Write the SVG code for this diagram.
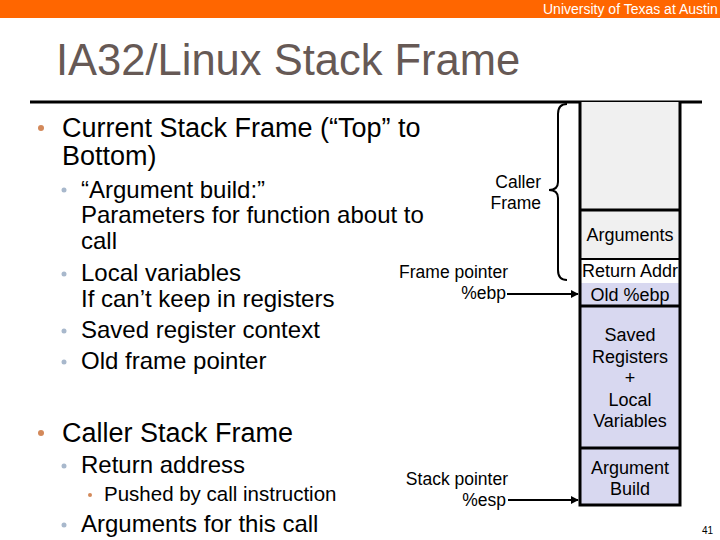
<svg xmlns="http://www.w3.org/2000/svg" width="720" height="540" viewBox="0 0 720 540">
<defs>
<style>
text{font-family:"Liberation Sans",Arial,sans-serif;fill:#000}
.b1{font-size:27px}
.b2{font-size:24px}
.b3{font-size:20.5px}
.lbl{font-size:17.5px}
.cell{font-size:18px;text-anchor:middle}
.r{text-anchor:end}
.d1{fill:#d3895a}
.d2{fill:#a8b8cc}
</style>
<marker id="ah" viewBox="0 0 10 10" refX="9" refY="5" markerWidth="4" markerHeight="4" orient="auto"><path d="M0,0L10,5L0,10z" fill="#000"/></marker>
</defs>
<rect width="720" height="540" fill="#fff"/>
<rect x="0" y="0" width="720" height="18" fill="#ff6600"/>
<text x="543" y="14" style="font-size:14px;fill:#fff">University of Texas at Austin</text>
<text x="56" y="75" style="font-size:43.5px;fill:#665955">IA32/Linux Stack Frame</text>
<line x1="30" y1="102" x2="702" y2="102" stroke="#000" stroke-width="3"/>

<g id="bullets">
<circle class="d1" cx="41" cy="128" r="3"/>
<text class="b1" x="62" y="137">Current Stack Frame (“Top” to</text>
<text class="b1" x="62" y="165">Bottom)</text>
<circle class="d2" cx="64" cy="190" r="2.5"/>
<text class="b2" x="81" y="198">“Argument build:”</text>
<text class="b2" x="81" y="223">Parameters for function about to</text>
<text class="b2" x="81" y="249">call</text>
<circle class="d2" cx="64" cy="274" r="2.5"/>
<text class="b2" x="81" y="281">Local variables</text>
<text class="b2" x="81" y="307">If can’t keep in registers</text>
<circle class="d2" cx="64" cy="331" r="2.5"/>
<text class="b2" x="81" y="338">Saved register context</text>
<circle class="d2" cx="64" cy="362" r="2.5"/>
<text class="b2" x="81" y="369">Old frame pointer</text>
<circle class="d1" cx="41" cy="433" r="3"/>
<text class="b1" x="62" y="442">Caller Stack Frame</text>
<circle class="d2" cx="64" cy="466" r="2.5"/>
<text class="b2" x="81" y="473">Return address</text>
<circle class="d1" cx="90" cy="495" r="2"/>
<text class="b3" x="104" y="501">Pushed by call instruction</text>
<circle class="d2" cx="64" cy="525" r="2.5"/>
<text class="b2" x="81" y="532">Arguments for this call</text>
</g>

<g id="stack">
<rect x="580" y="102" width="100" height="157" fill="#f0f0f0"/>
<rect x="580" y="259" width="100" height="24" fill="#fff"/>
<rect x="580" y="283" width="100" height="222" fill="#d8d8f0"/>
<line x1="580" y1="210" x2="680" y2="210" stroke="#000" stroke-width="3"/>
<line x1="580" y1="259" x2="680" y2="259" stroke="#000" stroke-width="2"/>
<line x1="580" y1="306" x2="680" y2="306" stroke="#000" stroke-width="3"/>
<line x1="580" y1="448" x2="680" y2="448" stroke="#000" stroke-width="3"/>
<path d="M580,102V505H680V102" fill="none" stroke="#000" stroke-width="3"/>
</g>
<g id="cells">
<text class="cell" x="630" y="241">Arguments</text>
<text class="cell" x="630" y="277">Return Addr</text>
<text class="cell" x="630" y="301">Old %ebp</text>
<text class="cell" x="630" y="341">Saved</text>
<text class="cell" x="630" y="363">Registers</text>
<text class="cell" x="630" y="384">+</text>
<text class="cell" x="630" y="406">Local</text>
<text class="cell" x="630" y="427">Variables</text>
<text class="cell" x="630" y="474">Argument</text>
<text class="cell" x="630" y="495">Build</text>
</g>

<g id="labels">
<text class="lbl r" x="541" y="188">Caller</text>
<text class="lbl r" x="541" y="209">Frame</text>
<text class="lbl r" x="508" y="278">Frame pointer</text>
<text class="lbl r" x="506" y="299">%ebp</text>
<text class="lbl r" x="508" y="485">Stack pointer</text>
<text class="lbl r" x="506" y="506">%esp</text>
</g>

<g id="connectors" fill="none" stroke="#000" stroke-width="2">
<path d="M567,104Q558,104 558,114V182Q558,190 549,190Q558,190 558,198V270Q558,280 567,280"/>
<line x1="507" y1="294" x2="578" y2="294" marker-end="url(#ah)"/>
<line x1="508" y1="500" x2="578" y2="500" marker-end="url(#ah)"/>
</g>
<text x="702" y="534" style="font-size:10px">41</text>
</svg>
